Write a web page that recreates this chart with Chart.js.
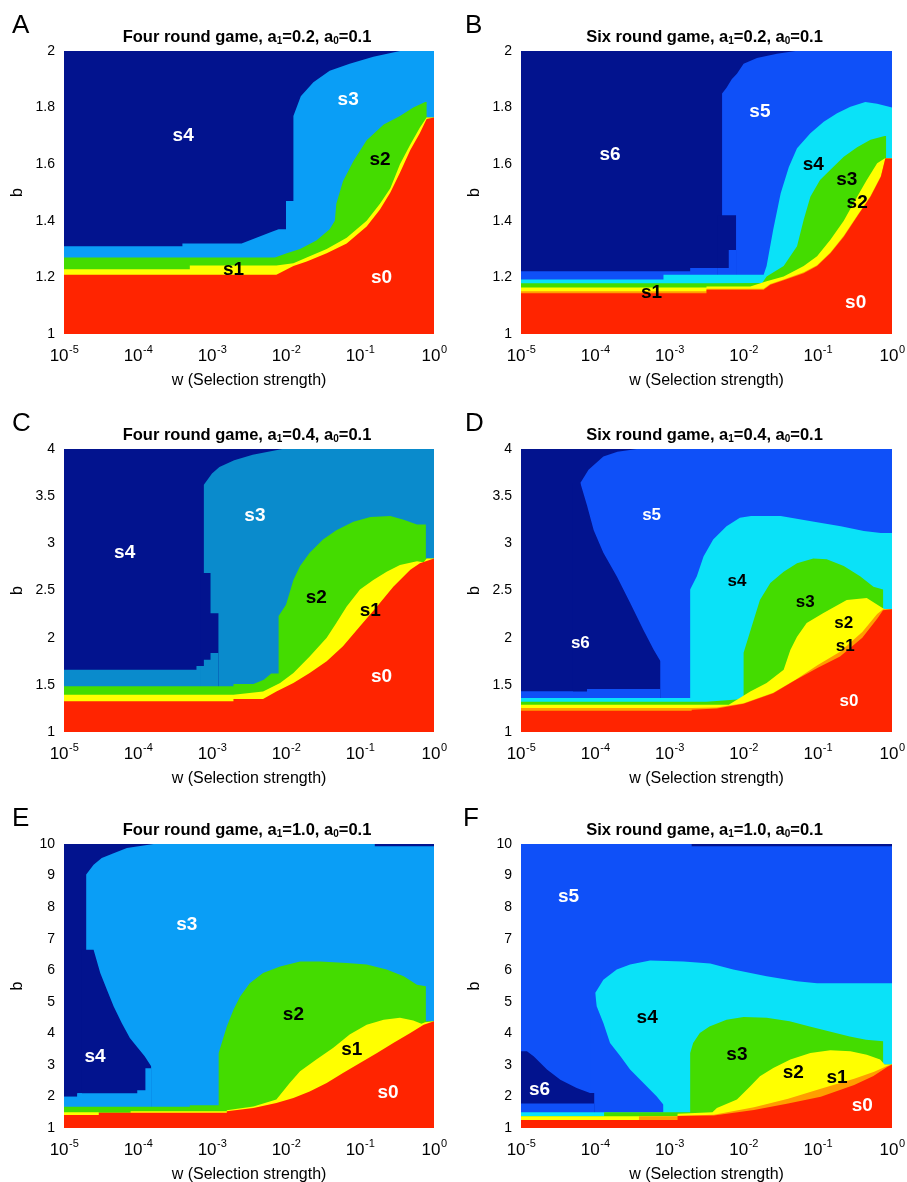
<!DOCTYPE html>
<html>
<head>
<meta charset="utf-8">
<script src="https://cdn.jsdelivr.net/npm/chart.js@4.4.0/dist/chart.umd.min.js"></script>
<style>
  html, body { margin: 0; padding: 0; background: #fff; }
  #wrap { position: relative; width: 907px; height: 1182px; overflow: hidden; }
  canvas { position: absolute; }
</style>
</head>
<body>
<div id="wrap">
  <canvas id="pA" width="450" height="390" style="left:0;top:0"></canvas>
  <canvas id="pB" width="457" height="390" style="left:450px;top:0"></canvas>
  <canvas id="pC" width="450" height="400" style="left:0;top:390px"></canvas>
  <canvas id="pD" width="457" height="400" style="left:450px;top:390px"></canvas>
  <canvas id="pE" width="450" height="392" style="left:0;top:790px"></canvas>
  <canvas id="pF" width="457" height="392" style="left:450px;top:790px"></canvas>
</div>
<script>
// x is log10(w); every region is the area under its top boundary [log10 w, b]
const xExponents = [-5, -4, -3, -2, -1, 0];

// ---- A: four rounds, a1=0.2
const A_top = [[-5, 2], [0, 2]];
const A_s3 = [[-5,1.31],[-3.4,1.31],[-3.4,1.32],[-2.6,1.32],[-2.4,1.34],[-2.2,1.36],[-2.1,1.37],[-2.0,1.37],[-2.0,1.47],[-1.9,1.47],[-1.9,1.77],[-1.8,1.84],[-1.63,1.89],[-1.41,1.93],[-1.14,1.955],[-0.82,1.98],[-0.46,2.0],[0,2.0]];
const A_s2 = [[-5,1.27],[-2.15,1.27],[-1.99,1.285],[-1.81,1.30],[-1.59,1.33],[-1.41,1.37],[-1.34,1.40],[-1.32,1.46],[-1.23,1.54],[-1.09,1.61],[-0.91,1.685],[-0.68,1.74],[-0.46,1.77],[-0.28,1.80],[-0.12,1.82],[-0.1,1.82],[-0.1,1.765],[0,1.765]];
const A_s1 = [[-5,1.229],[-3.3,1.229],[-3.3,1.242],[-2.13,1.242],[-1.9,1.25],[-1.72,1.27],[-1.45,1.30],[-1.18,1.34],[-0.91,1.40],[-0.73,1.46],[-0.59,1.515],[-0.46,1.60],[-0.32,1.67],[-0.19,1.73],[-0.1,1.765],[0,1.765]];
const A_s0 = [[-5,1.209],[-2.13,1.209],[-1.9,1.24],[-1.72,1.256],[-1.45,1.285],[-1.18,1.32],[-0.91,1.38],[-0.73,1.44],[-0.59,1.50],[-0.46,1.57],[-0.32,1.65],[-0.19,1.71],[-0.1,1.76],[0,1.765]];
const A_labels = [['s4',-3.39,1.70,'#fff'],['s3',-1.16,1.826,'#fff'],['s2',-0.73,1.615,'#000'],['s1',-2.71,1.227,'#000'],['s0',-0.71,1.197,'#fff']];

// ---- B: six rounds, a1=0.2
const B_top = [[-5, 2], [0, 2]];
const B_s5 = [[-5,1.222],[-2.72,1.222],[-2.72,1.233],[-2.29,1.233],[-2.29,1.85],[-2.23,1.87],[-2.16,1.90],[-2.09,1.92],[-2.0,1.955],[-1.82,1.975],[-1.55,1.99],[-1.3,2.0],[0,2.0]];
const B_s6b = [[-2.35,1.42],[-2.1,1.42],[-2.1,1.0]];
const B_s5b = [[-2.35,1.233],[-2.2,1.233],[-2.2,1.297],[-2.1,1.297],[-2.1,1.0]];
const B_s4 = [[-5,1.193],[-3.08,1.193],[-3.08,1.209],[-1.73,1.209],[-1.69,1.24],[-1.6,1.37],[-1.5,1.497],[-1.39,1.59],[-1.28,1.656],[-1.1,1.709],[-0.92,1.75],[-0.74,1.78],[-0.56,1.803],[-0.36,1.82],[-0.2,1.814],[0,1.80]];
const B_s3 = [[-5,1.179],[-2.45,1.179],[-1.75,1.18],[-1.69,1.203],[-1.46,1.24],[-1.28,1.31],[-1.19,1.404],[-1.1,1.485],[-0.97,1.544],[-0.83,1.58],[-0.65,1.626],[-0.47,1.66],[-0.29,1.686],[-0.1,1.70],[-0.08,1.70],[-0.08,1.62],[0,1.62]];
const B_s2 = [[-5,1.164],[-2.5,1.164],[-2.5,1.168],[-1.91,1.168],[-1.69,1.186],[-1.46,1.203],[-1.19,1.24],[-1.01,1.275],[-0.83,1.333],[-0.65,1.40],[-0.47,1.485],[-0.34,1.544],[-0.2,1.603],[-0.1,1.62],[0,1.62]];
const B_s1 = [[-5,1.151],[-2.5,1.151],[-2.5,1.16],[-1.73,1.16],[-1.64,1.177],[-1.46,1.193],[-1.19,1.218],[-1.01,1.243],[-0.83,1.288],[-0.65,1.347],[-0.47,1.418],[-0.29,1.488],[-0.15,1.558],[-0.09,1.62],[0,1.62]];
const B_s0 = [[-5,1.144],[-2.5,1.144],[-2.5,1.156],[-1.73,1.156],[-1.64,1.174],[-1.46,1.19],[-1.19,1.215],[-1.01,1.24],[-0.83,1.285],[-0.65,1.344],[-0.47,1.415],[-0.29,1.485],[-0.15,1.556],[-0.09,1.62],[0,1.62]];
const B_labels = [['s6',-3.80,1.632,'#fff'],['s5',-1.78,1.785,'#fff'],['s4',-1.06,1.597,'#000'],['s3',-0.61,1.544,'#000'],['s2',-0.47,1.462,'#000'],['s1',-3.24,1.145,'#000'],['s0',-0.49,1.109,'#fff']];

// ---- C: four rounds, a1=0.4
const C_top = [[-5, 4], [0, 4]];
const C_s3 = [[-5,1.66],[-3.21,1.66],[-3.21,1.70],[-3.11,1.70],[-3.11,3.62],[-3.0,3.74],[-2.9,3.81],[-2.7,3.88],[-2.45,3.94],[-2.05,4.0],[0,4.0]];
const C_s4b = [[-3.15,2.686],[-3.02,2.686],[-3.02,2.26],[-2.91,2.26],[-2.91,1.0]];
const C_s3b = [[-3.15,1.70],[-3.11,1.70],[-3.11,1.767],[-3.02,1.767],[-3.02,1.837],[-2.91,1.837],[-2.91,1.0]];
const C_s2 = [[-5,1.484],[-2.71,1.484],[-2.71,1.51],[-2.44,1.51],[-2.3,1.555],[-2.2,1.62],[-2.1,1.62],[-2.1,2.23],[-2.0,2.35],[-1.9,2.61],[-1.81,2.76],[-1.68,2.90],[-1.5,3.04],[-1.32,3.14],[-1.09,3.23],[-0.86,3.28],[-0.59,3.29],[-0.41,3.25],[-0.23,3.20],[-0.11,3.20],[-0.11,2.84],[0,2.84]];
const C_s1 = [[-5,1.396],[-2.71,1.396],[-2.31,1.43],[-2.08,1.52],[-1.9,1.625],[-1.68,1.80],[-1.45,2.0],[-1.32,2.155],[-1.18,2.33],[-1.0,2.51],[-0.82,2.61],[-0.64,2.70],[-0.46,2.77],[-0.23,2.81],[-0.14,2.80],[-0.1,2.84],[0,2.84]];
const C_s0 = [[-5,1.325],[-2.71,1.325],[-2.71,1.35],[-2.31,1.35],[-2.13,1.43],[-1.9,1.52],[-1.68,1.625],[-1.45,1.75],[-1.23,1.91],[-1.0,2.12],[-0.77,2.33],[-0.55,2.54],[-0.32,2.72],[-0.19,2.79],[0,2.84]];
const C_labels = [['s4',-4.18,2.90,'#fff'],['s3',-2.42,3.29,'#fff'],['s2',-1.59,2.42,'#000'],['s1',-0.86,2.28,'#000'],['s0',-0.71,1.59,'#fff']];

// ---- D: six rounds, a1=0.4
const D_top = [[-5, 4], [0, 4]];
const D_s5 = [[-5,1.43],[-4.2,1.43],[-4.2,3.64],[-4.09,3.78],[-3.89,3.92],[-3.7,3.97],[-3.44,4.0],[0,4.0]];
const D_s6 = [[-4.3,3.64],[-4.2,3.64],[-4.11,3.40],[-4.02,3.14],[-3.89,2.90],[-3.71,2.65],[-3.53,2.37],[-3.35,2.08],[-3.21,1.87],[-3.12,1.75],[-3.12,1.0]];
const D_s5b = [[-5,1.43],[-4.11,1.43],[-4.11,1.456],[-3.12,1.456],[-3.12,1.0]];
const D_s4 = [[-5,1.36],[-2.72,1.36],[-2.72,2.51],[-2.63,2.65],[-2.54,2.86],[-2.41,3.04],[-2.23,3.18],[-2.05,3.27],[-1.9,3.29],[-1.5,3.29],[-1.05,3.23],[-0.69,3.18],[-0.38,3.13],[-0.15,3.11],[0,3.11]];
const D_s3 = [[-5,1.32],[-2.5,1.32],[-2.0,1.35],[-2.0,1.84],[-1.89,2.12],[-1.78,2.40],[-1.64,2.58],[-1.46,2.70],[-1.28,2.79],[-1.06,2.84],[-0.88,2.83],[-0.65,2.76],[-0.43,2.65],[-0.25,2.54],[-0.12,2.51],[-0.12,2.30],[0,2.30]];
const D_s2 = [[-5,1.29],[-2.2,1.29],[-1.91,1.43],[-1.69,1.52],[-1.46,1.66],[-1.37,1.87],[-1.28,2.01],[-1.15,2.155],[-0.93,2.26],[-0.61,2.40],[-0.34,2.42],[-0.16,2.33],[-0.1,2.30],[0,2.30]];
const D_s1 = [[-5,1.255],[-2.7,1.255],[-2.36,1.26],[-2.0,1.305],[-1.6,1.415],[-1.3,1.555],[-1.0,1.71],[-0.7,1.85],[-0.4,2.06],[-0.2,2.25],[-0.12,2.30],[0,2.30]];
const D_s0 = [[-5,1.225],[-2.7,1.225],[-2.7,1.237],[-2.36,1.25],[-2.0,1.30],[-1.6,1.41],[-1.3,1.55],[-1.0,1.68],[-0.7,1.80],[-0.4,2.0],[-0.2,2.2],[-0.12,2.29],[0,2.30]];
const D_labels = [['s5',-3.24,3.30,'#fff'],['s4',-2.09,2.60,'#000'],['s3',-1.17,2.37,'#000'],['s2',-0.65,2.155,'#000'],['s1',-0.63,1.91,'#000'],['s6',-4.20,1.94,'#fff'],['s0',-0.58,1.325,'#fff']];

// ---- E: four rounds, a1=1.0
const E_top = [[-5, 10], [0, 10]];
const E_s3 = [[-5,1.99],[-4.82,1.99],[-4.82,2.10],[-4.70,2.10],[-4.70,9.03],[-4.6,9.34],[-4.49,9.56],[-4.33,9.71],[-4.15,9.87],[-3.79,10],[-0.8,10],[-0.8,9.93],[0,9.93]];
const E_s4 = [[-4.76,6.65],[-4.60,6.65],[-4.51,5.91],[-4.42,5.38],[-4.33,4.86],[-4.22,4.33],[-4.11,3.85],[-4.02,3.59],[-3.91,3.27],[-3.82,2.95],[-3.82,1.0]];
const E_s3b = [[-5,1.99],[-4.82,1.99],[-4.82,2.10],[-4.01,2.10],[-4.01,2.20],[-3.9,2.20],[-3.9,2.89],[-3.82,2.89],[-3.82,1.0]];
const E_s2 = [[-5,1.67],[-3.3,1.67],[-3.3,1.72],[-2.91,1.72],[-2.91,3.38],[-2.8,4.22],[-2.71,4.75],[-2.62,5.17],[-2.49,5.59],[-2.31,5.91],[-2.08,6.12],[-1.81,6.28],[-1.54,6.28],[-1.18,6.23],[-0.91,6.18],[-0.64,6.02],[-0.41,5.81],[-0.23,5.54],[-0.11,5.49],[-0.11,4.38],[0,4.38]];
const E_s1 = [[-5,1.50],[-4.53,1.50],[-4.53,1.485],[-4.1,1.485],[-4.1,1.53],[-2.8,1.53],[-2.8,1.56],[-2.44,1.68],[-2.13,1.9],[-1.95,2.43],[-1.81,2.80],[-1.59,3.17],[-1.36,3.54],[-1.14,3.96],[-0.91,4.27],[-0.68,4.43],[-0.46,4.49],[-0.28,4.41],[-0.17,4.3],[-0.12,4.35],[0,4.38]];
const E_s0 = [[-5,1.41],[-4.53,1.41],[-4.53,1.485],[-2.8,1.485],[-2.8,1.53],[-2.44,1.63],[-2.13,1.79],[-1.9,1.95],[-1.68,2.16],[-1.45,2.43],[-1.23,2.74],[-1.0,3.06],[-0.77,3.38],[-0.55,3.69],[-0.32,4.01],[-0.14,4.27],[0,4.38]];
const E_labels = [['s3',-3.34,7.44,'#fff'],['s2',-1.90,4.59,'#000'],['s1',-1.11,3.48,'#000'],['s4',-4.58,3.27,'#fff'],['s0',-0.62,2.11,'#fff']];

// ---- F: six rounds, a1=1.0
const F_top = [[-5, 10], [0, 10]];
const F_s5 = [[-5,10],[-2.7,10],[-2.7,9.93],[0,9.93]];
const F_s4 = [[-5,1.50],[-4.0,1.50],[-4.0,5.28],[-3.89,5.70],[-3.71,6.02],[-3.53,6.18],[-3.26,6.31],[-2.81,6.28],[-2.45,6.21],[-2.14,6.02],[-1.69,5.81],[-1.28,5.65],[-1.01,5.59],[0,5.59]];
const F_s5b = [[-4.06,5.28],[-4.0,5.28],[-3.98,4.86],[-3.89,4.33],[-3.80,3.69],[-3.66,3.27],[-3.53,2.85],[-3.35,2.43],[-3.17,2.0],[-3.08,1.74],[-3.08,1.0]];
const F_s6 = [[-5,3.43],[-4.92,3.43],[-4.83,3.27],[-4.65,2.85],[-4.47,2.53],[-4.25,2.27],[-4.07,2.11],[-4.01,2.11],[-4.01,1.0]];
const F_s5c = [[-5,1.78],[-4.01,1.78],[-4.01,1.0]];
const F_s4b = [[-5,1.50],[-3.08,1.50],[-3.08,1.0]];
const F_s3 = [[-5,1.37],[-3.88,1.37],[-3.88,1.50],[-2.72,1.50],[-2.72,3.38],[-2.68,3.69],[-2.59,4.01],[-2.46,4.22],[-2.23,4.43],[-2.0,4.52],[-1.69,4.49],[-1.38,4.38],[-1.11,4.22],[-0.84,4.06],[-0.57,3.90],[-0.35,3.80],[-0.12,3.75],[-0.12,3.01],[0,3.01]];
const F_s2 = [[-5,1.37],[-2.89,1.37],[-2.89,1.45],[-2.42,1.50],[-2.36,1.63],[-2.09,1.90],[-1.91,2.32],[-1.78,2.64],[-1.6,2.90],[-1.37,3.17],[-1.1,3.38],[-0.83,3.46],[-0.56,3.43],[-0.34,3.32],[-0.16,3.17],[-0.1,3.01],[0,3.01]];
const F_s1 = [[-5,1.25],[-3.41,1.25],[-3.41,1.37],[-2.89,1.37],[-2.89,1.39],[-2.4,1.42],[-1.86,1.66],[-1.4,1.93],[-0.96,2.24],[-0.51,2.56],[-0.24,2.78],[-0.06,2.97],[0,3.01]];
const F_s0 = [[-5,1.25],[-2.89,1.25],[-2.89,1.38],[-2.4,1.40],[-1.86,1.57],[-1.4,1.78],[-0.96,1.99],[-0.51,2.36],[-0.25,2.65],[-0.06,2.94],[0,3.01]];
const F_labels = [['s5',-4.36,8.34,'#fff'],['s4',-3.30,4.49,'#000'],['s3',-2.09,3.32,'#000'],['s2',-1.33,2.74,'#000'],['s1',-0.74,2.58,'#000'],['s6',-4.75,2.21,'#fff'],['s0',-0.40,1.69,'#fff']];

const RED = '#ff2400', ORANGE = '#ff9e00', YELLOW = '#ffff00', GREEN = '#44dc00';
const LBLUE = '#0a9ef6', STEEL = '#0a8bcc', NAVY = '#02138e', BLUE = '#0f50f8', CYAN = '#0ae2f8';
const FONT = '"Liberation Sans", Arial, Helvetica, sans-serif';

// draws letters, titles, 10^k ticks, axis names and region names
const decor = {
  id: 'decor',
  afterDraw(chart, args, o) {
    const ctx = chart.ctx;
    const a = chart.chartArea;
    const xs = chart.scales.x, ys = chart.scales.y;
    const cx = (a.left + a.right) / 2;
    ctx.save();
    ctx.fillStyle = '#000';
    ctx.textBaseline = 'alphabetic';
    ctx.textAlign = 'left';

    ctx.font = '26px ' + FONT;
    ctx.fillText(o.letter, a.left - o.letterDx, a.top - 18);

    const parts = [[o.game + ' round game, a', 0], ['1', 1], ['=' + o.a1 + ', a', 0], ['0', 1], ['=0.1', 0]];
    const fontOf = p => 'bold ' + (p[1] ? 10 : 16.5) + 'px ' + FONT;
    let total = 0;
    parts.forEach(p => { ctx.font = fontOf(p); total += ctx.measureText(p[0]).width; });
    let tx = cx - 2 - total / 2;
    parts.forEach(p => {
      ctx.font = fontOf(p);
      ctx.fillText(p[0], tx, a.top - 9 + (p[1] ? 2 : 0));
      tx += ctx.measureText(p[0]).width;
    });

    xExponents.forEach(e => {
      const px = xs.getPixelForValue(e);
      ctx.font = '17px ' + FONT;
      const w1 = ctx.measureText('10').width;
      ctx.font = '11px ' + FONT;
      const w2 = ctx.measureText(String(e)).width;
      const x0 = px - (w1 + w2) / 2;
      ctx.font = '17px ' + FONT;
      ctx.fillText('10', x0, a.bottom + 27);
      ctx.font = '11px ' + FONT;
      ctx.fillText(String(e), x0 + w1 + 0.5, a.bottom + 19);
    });

    ctx.textAlign = 'center';
    ctx.font = '16px ' + FONT;
    ctx.fillText('w (Selection strength)', cx, a.bottom + 51);
    ctx.save();
    ctx.translate(a.left - 46, (a.top + a.bottom) / 2);
    ctx.rotate(-Math.PI / 2);
    ctx.textBaseline = 'middle';
    ctx.fillText('b', 0, 0);
    ctx.restore();

    ctx.font = 'bold ' + o.labelSize + 'px ' + FONT;
    ctx.textBaseline = 'middle';
    o.labels.forEach(l => {
      ctx.fillStyle = l[3];
      ctx.fillText(l[0], xs.getPixelForValue(l[1]), ys.getPixelForValue(l[2]));
    });
    ctx.restore();
  }
};

function makePanel(p) {
  // layers are listed back to front; later ones paint over earlier ones
  const datasets = p.layers.map((L, i) => ({
    data: L[1].map(pt => ({ x: pt[0], y: pt[1] })),
    backgroundColor: L[0],
    borderColor: 'rgba(0,0,0,0)',
    borderWidth: 0,
    pointRadius: 0,
    tension: 0,
    fill: 'start',
    order: -i
  }));

  new Chart(document.getElementById(p.id), {
    type: 'line',
    data: { datasets },
    plugins: [decor],
    options: {
      responsive: false,
      animation: false,
      devicePixelRatio: 1,
      events: [],
      layout: { padding: { left: 0, top: p.top, right: p.right, bottom: 0 } },
      plugins: {
        legend: { display: false },
        tooltip: { enabled: false },
        decor: { letter: p.letter, letterDx: p.letterDx, game: p.game, a1: p.a1, labels: p.labels, labelSize: p.labelSize }
      },
      scales: {
        x: {
          type: 'linear', min: -5, max: 0,
          ticks: { display: false, stepSize: 1 },
          grid: { display: false, drawTicks: false },
          border: { display: false },
          afterFit: s => { s.height = p.xh; }
        },
        y: {
          type: 'linear', min: p.yMin, max: p.yMax,
          ticks: {
            stepSize: p.yStep, autoSkip: false, padding: 9, color: '#000',
            font: { family: FONT, size: 14 },
            callback: v => String(Math.round(v * 100) / 100)
          },
          grid: { display: false, drawTicks: false },
          border: { display: false },
          afterFit: s => { s.width = p.left; }
        }
      }
    }
  });
}

makePanel({ id: 'pA', letter: 'A', letterDx: 52, game: 'Four', a1: '0.2', yMin: 1, yMax: 2, yStep: 0.2,
  top: 51, xh: 56, left: 64, right: 16, labelSize: 19, labels: A_labels,
  layers: [[NAVY, A_top], [LBLUE, A_s3], [GREEN, A_s2], [YELLOW, A_s1], [RED, A_s0]] });

makePanel({ id: 'pB', letter: 'B', letterDx: 56, game: 'Six', a1: '0.2', yMin: 1, yMax: 2, yStep: 0.2,
  top: 51, xh: 56, left: 71, right: 15, labelSize: 19, labels: B_labels,
  layers: [[NAVY, B_top], [BLUE, B_s5], [NAVY, B_s6b], [BLUE, B_s5b], [CYAN, B_s4], [GREEN, B_s3], [YELLOW, B_s2], [ORANGE, B_s1], [RED, B_s0]] });

makePanel({ id: 'pC', letter: 'C', letterDx: 52, game: 'Four', a1: '0.4', yMin: 1, yMax: 4, yStep: 0.5,
  top: 59, xh: 58, left: 64, right: 16, labelSize: 19, labels: C_labels,
  layers: [[NAVY, C_top], [STEEL, C_s3], [NAVY, C_s4b], [STEEL, C_s3b], [GREEN, C_s2], [YELLOW, C_s1], [RED, C_s0]] });

makePanel({ id: 'pD', letter: 'D', letterDx: 56, game: 'Six', a1: '0.4', yMin: 1, yMax: 4, yStep: 0.5,
  top: 59, xh: 58, left: 71, right: 15, labelSize: 17, labels: D_labels,
  layers: [[NAVY, D_top], [BLUE, D_s5], [NAVY, D_s6], [BLUE, D_s5b], [CYAN, D_s4], [GREEN, D_s3], [YELLOW, D_s2], [ORANGE, D_s1], [RED, D_s0]] });

makePanel({ id: 'pE', letter: 'E', letterDx: 52, game: 'Four', a1: '1.0', yMin: 1, yMax: 10, yStep: 1,
  top: 54, xh: 54, left: 64, right: 16, labelSize: 19, labels: E_labels,
  layers: [[NAVY, E_top], [LBLUE, E_s3], [NAVY, E_s4], [LBLUE, E_s3b], [GREEN, E_s2], [YELLOW, E_s1], [RED, E_s0]] });

makePanel({ id: 'pF', letter: 'F', letterDx: 58, game: 'Six', a1: '1.0', yMin: 1, yMax: 10, yStep: 1,
  top: 54, xh: 54, left: 71, right: 15, labelSize: 19, labels: F_labels,
  layers: [[NAVY, F_top], [BLUE, F_s5], [CYAN, F_s4], [BLUE, F_s5b], [NAVY, F_s6], [BLUE, F_s5c], [CYAN, F_s4b], [GREEN, F_s3], [YELLOW, F_s2], [ORANGE, F_s1], [RED, F_s0]] });
</script>
</body>
</html>
